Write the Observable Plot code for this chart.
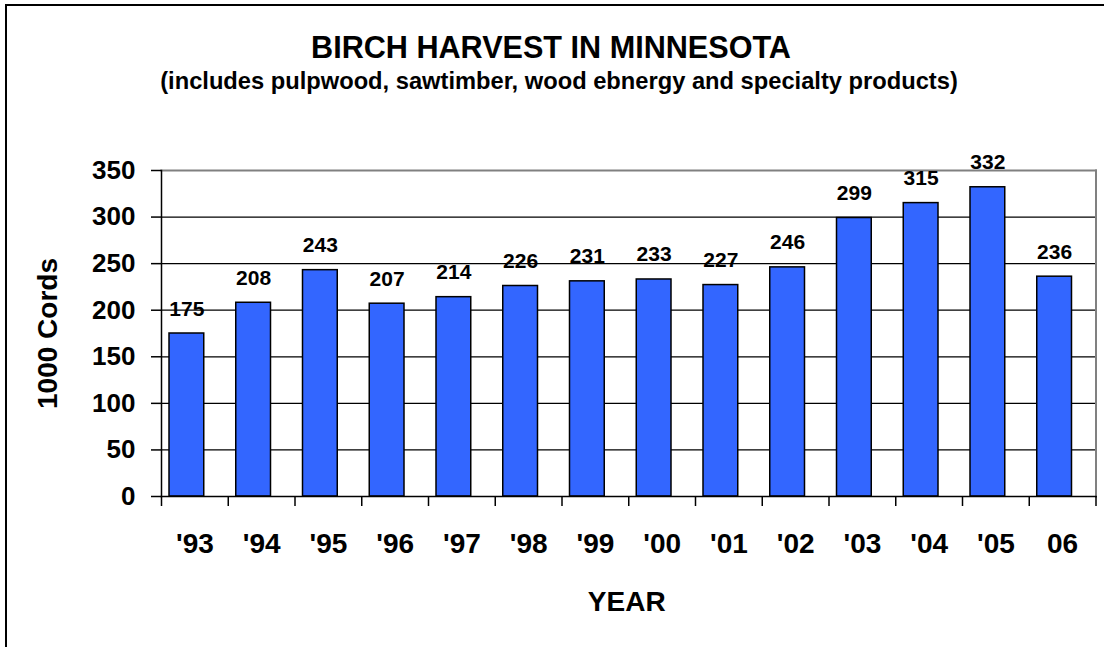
<!DOCTYPE html>
<html><head><meta charset="utf-8">
<script src="https://cdn.jsdelivr.net/npm/d3@7"></script>
<script src="https://cdn.jsdelivr.net/npm/@observablehq/plot@0.6"></script>
<style>
body{margin:0;background:#fff;font-family:"Liberation Sans",Arial,sans-serif;}
#wrap{position:relative;width:1104px;height:647px;overflow:hidden;background:#fff;}
#frame{position:absolute;left:5px;top:4px;width:1130px;height:720px;border:2px solid #000;box-sizing:border-box;pointer-events:none;}
#head{position:relative;height:120px;}
.t{position:absolute;white-space:nowrap;font-weight:bold;line-height:1;color:#000;text-align:center;}
#chart svg{display:block;}
</style></head><body>
<div id="wrap">
  <div id="head">
    <div class="t" style="left:0;width:1102px;top:32px;font-size:30.6px">BIRCH HARVEST IN MINNESOTA</div>
    <div class="t" style="left:7px;width:1104px;top:70px;font-size:23.7px">(includes pulpwood, sawtimber, wood ebnergy and specialty products)</div>
  </div>
  <div id="chart"></div>
  <div id="frame"></div>
</div>
<script>
const years = ["'93","'94","'95","'96","'97","'98","'99","'00","'01","'02","'03","'04","'05","06"];
const cords = [175,208,243,207,214,226,231,233,227,246,299,315,332,236];
const yTicks = [0,50,100,150,200,250,300,350];
const gridTicks = [50,100,150,200,250,300];
const yLabel = "1000 Cords";
const xLabel = "YEAR";

const data = years.map((year, i) => ({year, value: cords[i]}));

const W = 1104, H = 527, mL = 161, mR = 8.5, mT = 50, mB = 151;
const bw = (W - mL - mR) / years.length;

const chart = Plot.plot({
  width: W, height: H,
  marginLeft: mL, marginRight: mR, marginTop: mT, marginBottom: mB,
  style: {fontFamily: "'Liberation Sans', Arial, sans-serif", background: "#fff", color: "#000"},
  x: {type: "band", domain: years, padding: 0, round: false, label: null},
  y: {domain: [0, 350], label: null},
  marks: [
    Plot.ruleY(gridTicks, {stroke: "#000", strokeWidth: 1.3}),
    Plot.frame({anchor: "top", stroke: "#808080", strokeWidth: 2}),
    Plot.frame({anchor: "right", stroke: "#808080", strokeWidth: 2}),
    Plot.barY(data, {x: "year", y: "value", fill: "#3366FF", stroke: "#000", strokeWidth: 1.5, insetLeft: 8, insetRight: 24}),
    Plot.frame({anchor: "left", stroke: "#000", strokeWidth: 1.5}),
    Plot.frame({anchor: "bottom", stroke: "#000", strokeWidth: 1.5}),
    Plot.axisY({ticks: yTicks, tickSize: 10, tickPadding: 16, fontSize: 26, fontWeight: "bold", strokeWidth: 1.5, label: null}),
    Plot.axisX({tickSize: 10, tickFormat: () => "", dx: -bw / 2, strokeWidth: 1.5, label: null}),
    Plot.axisX([years[years.length - 1]], {tickSize: 10, tickFormat: () => "", dx: bw / 2, strokeWidth: 1.5, label: null}),
    Plot.axisX({tickSize: 0, tickPadding: 37, fontSize: 28, fontWeight: "bold", label: null}),
    Plot.text(data, {x: "year", y: "value", text: d => String(d.value), dx: -8, dy: -18, lineAnchor: "bottom", fontSize: 21, fontWeight: "bold", fill: "#000"}),
    Plot.text([xLabel], {frameAnchor: "bottom", textAnchor: "middle", dx: -2, dy: 114, lineAnchor: "bottom", fontSize: 28, fontWeight: "bold", fill: "#000"}),
    Plot.text([yLabel], {frameAnchor: "left", textAnchor: "middle", rotate: -90, dx: -105, lineAnchor: "bottom", fontSize: 28, fontWeight: "bold", fill: "#000"})
  ]
});
document.getElementById("chart").appendChild(chart);
</script>
</body></html>
